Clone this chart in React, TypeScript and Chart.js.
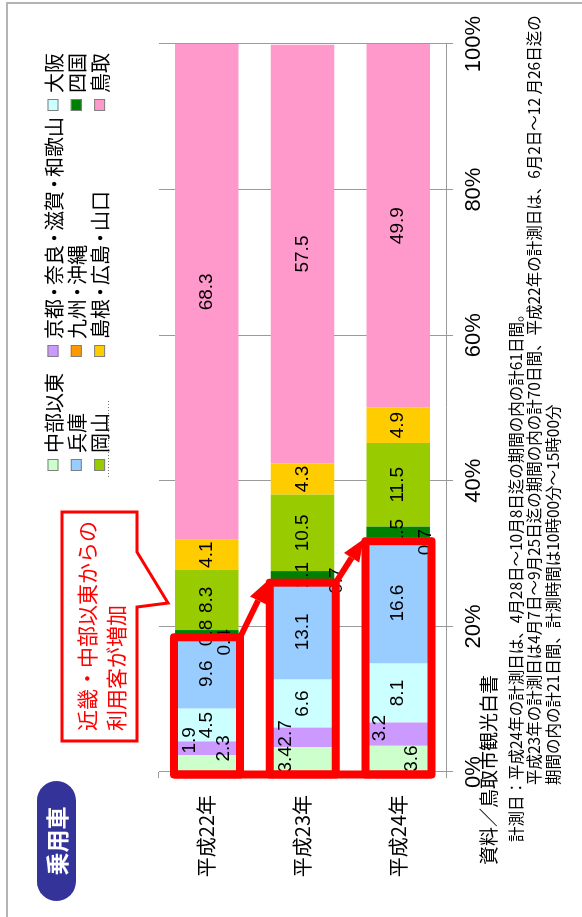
import { useEffect, useRef } from 'react';
import { Chart, registerables } from 'chart.js';

Chart.register(...registerables);

// ---- data ----
const categories = ['平成22年', '平成23年', '平成24年'];
const seriesNames = ['中部以東', '京都・奈良・滋賀・和歌山', '大阪', '兵庫', '九州・沖縄', '四国', '岡山', '島根・広島・山口', '鳥取'];
const seriesColors = ['#CCFFCC', '#CC99FF', '#CCFFFF', '#99CCFF', '#FF9900', '#008000', '#99CC00', '#FFCC00', '#FF99CC'];
const chubuIto = [2.3, 3.4, 3.6];
const kinkiOther = [1.9, 2.7, 3.2];
const osaka = [4.5, 6.6, 8.1];
const hyogo = [9.6, 13.1, 16.6];
const kyushuOkinawa = [0.4, 0.7, 0.7];
const shikoku = [0.8, 1.1, 1.5];
const okayama = [8.3, 10.5, 11.5];
const shimaneHiroshimaYamaguchi = [4.1, 4.3, 4.9];
const tottori = [68.3, 57.5, 49.9];
const seriesValues = [chubuIto, kinkiOther, osaka, hyogo, kyushuOkinawa, shikoku, okayama, shimaneHiroshimaYamaguchi, tottori];
const tickStep = 20;
const tickSuffix = '%';

const badgeText = '乗用車';
const calloutLines = ['近畿・中部以東からの', '利用客が増加'];
const sourceText = '資料／鳥取市観光白書';
const noteLines = [
  '計測日：平成24年の計測日は、4月28日～10月8日迄の期間の内の計61日間。',
  '平成23年の計測日は4月7日～9月25日迄の期間の内の計70日間、平成22年の計測日は、6月2日～12 月26日迄の',
  '期間の内の計21日間、計測時間は10時00分～15時00分',
];

// ---- styling / layout (not data) ----
const FONT_NARROW = '"Liberation Sans Narrow", "Arial Narrow", "Liberation Sans", sans-serif';
const FONT_JP = '"Noto Sans CJK JP", "Noto Sans CJK SC", sans-serif';
const GRID = '#9a9a9a';
// small label nudges [along value axis, across bar] like the original's manual placement
const labelNudge: Record<string, [number, number]> = {
  '0-0': [15, 17], '1-0': [8, -17], '4-0': [-5, 18],
  '0-1': [0, -17], '1-1': [4, -17], '4-1': [1, 34],
  '0-2': [0, 14], '1-2': [6, -18], '4-2': [-2, 28],
};

// draws text where the middle dot takes a narrower (proportional) slot
function fillProp(ctx: CanvasRenderingContext2D, text: string, x: number, y: number, em: number) {
  let cx = x;
  for (const ch of text) {
    if (ch === '・') {
      const slot = em * 0.7;
      const w = ctx.measureText(ch).width;
      ctx.fillText(ch, cx + (slot - w) / 2, y);
      cx += slot;
    } else {
      ctx.fillText(ch, cx, y);
      cx += ctx.measureText(ch).width;
    }
  }
}

function drawArrow(ctx: CanvasRenderingContext2D, x0: number, y0: number, x1: number, y1: number) {
  const dx = x1 - x0, dy = y1 - y0;
  const len = Math.hypot(dx, dy);
  const ux = dx / len, uy = dy / len;
  const head = 22, half = 9;
  const bx = x1 - ux * head, by = y1 - uy * head;
  ctx.beginPath();
  ctx.moveTo(x0, y0);
  ctx.lineTo(bx, by);
  ctx.lineWidth = 6;
  ctx.stroke();
  ctx.beginPath();
  ctx.moveTo(x1, y1);
  ctx.lineTo(bx - uy * half, by + ux * half);
  ctx.lineTo(bx + uy * half, by - ux * half);
  ctx.closePath();
  ctx.fill();
}

const segLabelPlugin = {
  id: 'segLabels',
  afterDatasetsDraw(chart: any) {
    const ctx: CanvasRenderingContext2D = chart.ctx;
    ctx.save();
    ctx.font = `19px ${FONT_NARROW}`;
    ctx.fillStyle = '#000';
    ctx.textAlign = 'center';
    ctx.textBaseline = 'middle';
    chart.data.datasets.forEach((ds: any, di: number) => {
      const meta = chart.getDatasetMeta(di);
      meta.data.forEach((el: any, ci: number) => {
        const val = ds.data[ci] as number;
        const n = labelNudge[`${di}-${ci}`] || [0, 0];
        const base = Math.max(el.base, chart.chartArea.left);
        const end = Math.min(el.x, chart.chartArea.right);
        ctx.fillText(val.toFixed(1), (base + end) / 2 + n[0], el.y + n[1]);
      });
    });

    // red highlight boxes around 0 .. 兵庫 part of each bar
    const zero = chart.scales.x.getPixelForValue(0);
    const hy = chart.getDatasetMeta(3).data;
    const boxes = hy.map((el: any) => ({
      u0: zero - 2.5,
      u1: el.x + 1.5,
      v0: el.y - el.height / 2 - 1,
      v1: el.y + el.height / 2 + 1.5,
    }));
    ctx.strokeStyle = '#FF0000';
    ctx.fillStyle = '#FF0000';
    ctx.lineWidth = 8;
    ctx.lineJoin = 'round';
    boxes.forEach((b: any) => {
      ctx.beginPath();
      ctx.rect(b.u0, b.v0, b.u1 - b.u0, b.v1 - b.v0);
      ctx.stroke();
    });
    ctx.beginPath();
    ctx.moveTo(zero - 2.5, boxes[0].v0);
    ctx.lineTo(zero - 2.5, boxes[boxes.length - 1].v1);
    ctx.stroke();
    for (let i = 0; i < boxes.length - 1; i++) {
      drawArrow(ctx, boxes[i].u1, boxes[i].v1, boxes[i + 1].u1 + 2, boxes[i + 1].v0 - 2);
    }
    ctx.restore();
  },
};

const decorPlugin = {
  id: 'decor',
  afterDraw(chart: any) {
    const ctx: CanvasRenderingContext2D = chart.ctx;
    ctx.save();
    // badge
    ctx.fillStyle = '#333399';
    ctx.beginPath();
    (ctx as any).roundRect(16, 37, 120, 39, 19.5);
    ctx.fill();
    ctx.fillStyle = '#FFFFFF';
    ctx.font = `bold 23px ${FONT_JP}`;
    ctx.textAlign = 'center';
    ctx.textBaseline = 'middle';
    ctx.fillText(badgeText, 76, 57);

    // callout
    ctx.beginPath();
    ctx.moveTo(176, 62);
    ctx.lineTo(405, 62);
    ctx.lineTo(405, 137);
    ctx.lineTo(365, 137);
    ctx.lineTo(314, 168);
    ctx.lineTo(310, 137);
    ctx.lineTo(176, 137);
    ctx.closePath();
    ctx.fillStyle = '#FFFFFF';
    ctx.fill();
    ctx.strokeStyle = '#FF0000';
    ctx.lineWidth = 3;
    ctx.lineJoin = 'miter';
    ctx.stroke();
    ctx.fillStyle = '#FF0000';
    ctx.font = `21px ${FONT_JP}`;
    ctx.textAlign = 'left';
    ctx.fillText(calloutLines[0], 186, 87);
    ctx.fillText(calloutLines[1], 186, 116);

    // legend (3 columns x 3 rows)
    const colU = [446, 560, 806];
    const rowV = [53, 76.3, 99.6];
    ctx.font = `20px ${FONT_JP}`;
    chart.data.datasets.forEach((ds: any, i: number) => {
      const r = Math.floor(i / 3), c = i % 3;
      const u = colU[c], v = rowV[r];
      ctx.fillStyle = ds.backgroundColor;
      ctx.fillRect(u, v - 5.5, 12, 11);
      ctx.strokeStyle = '#7f7f7f';
      ctx.lineWidth = 1;
      ctx.strokeRect(u + 0.5, v - 5, 11, 10);
      ctx.fillStyle = '#000';
      fillProp(ctx, ds.label, u + 18, v + 1, 20);
    });
    // faint dotted selection mark next to the last legend row
    ctx.strokeStyle = '#777';
    ctx.lineWidth = 1;
    ctx.setLineDash([1, 2]);
    ctx.beginPath();
    ctx.moveTo(440, 108.5);
    ctx.lineTo(517, 108.5);
    ctx.stroke();
    ctx.setLineDash([]);

    // source
    ctx.font = `19px ${FONT_JP}`;
    ctx.fillStyle = '#000';
    ctx.fillText(sourceText, 52, 489);

    // notes
    ctx.font = `15.5px ${FONT_JP}`;
    ctx.fillText(noteLines[0], 75, 516);
    ctx.fillText(noteLines[1], 132, 534.5);
    ctx.fillText(noteLines[2], 132, 553);
    ctx.restore();
  },
};

export default function App() {
  const ref = useRef<HTMLCanvasElement>(null);
  useEffect(() => {
    const canvas = ref.current;
    if (!canvas) return;
    const chart = new Chart(canvas, {
      type: 'bar',
      data: {
        labels: categories,
        datasets: seriesNames.map((name, i) => ({
          label: name,
          data: seriesValues[i],
          backgroundColor: seriesColors[i],
          borderWidth: 0,
          categoryPercentage: 1,
          barPercentage: 0.664,
        })),
      },
      options: {
        indexAxis: 'y',
        responsive: false,
        maintainAspectRatio: false,
        animation: false,
        devicePixelRatio: 1,
        layout: { padding: { left: 0, right: 44, top: 159, bottom: 96 } },
        plugins: {
          legend: { display: false },
          tooltip: { enabled: false },
          title: { display: false },
        },
        scales: {
          x: {
            stacked: true,
            min: 0,
            max: 100,
            position: 'bottom',
            ticks: {
              stepSize: tickStep,
              callback: (v: any) => `${v}${tickSuffix}`,
              font: { family: FONT_NARROW, size: 22 },
              color: '#000',
              padding: 8,
              maxRotation: 0,
            },
            grid: { color: GRID, tickLength: 7, lineWidth: 1 },
            border: { color: GRID },
            afterFit: (s: any) => { s.height = 40; },
          },
          y: {
            stacked: true,
            position: 'left',
            ticks: { font: { family: FONT_JP, size: 20 }, color: '#000', padding: 17 },
            grid: { drawOnChartArea: false, offset: true, tickLength: 6, color: GRID },
            border: { color: GRID },
            afterFit: (s: any) => { s.width = 145; },
          },
        },
      } as any,
      plugins: [segLabelPlugin, decorPlugin],
    });
    return () => chart.destroy();
  }, []);

  return (
    <div style={{ position: 'fixed', left: 0, top: 0, width: 582, height: 917, background: '#fff', overflow: 'hidden' }}>
      <div
        style={{
          position: 'absolute', left: 0, top: 0, width: 917, height: 582,
          transformOrigin: '0 0', transform: 'translate(0px, 917px) rotate(-90deg)',
        }}
      >
        <canvas ref={ref} width={917} height={582} style={{ display: 'block', width: 917, height: 582 }} />
      </div>
      <div style={{ position: 'absolute', left: 6, top: 2, width: 576, height: 2, background: '#b4b4b4' }} />
      <div style={{ position: 'absolute', left: 6, top: 2, width: 2, height: 915, background: '#b4b4b4' }} />
    </div>
  );
}
